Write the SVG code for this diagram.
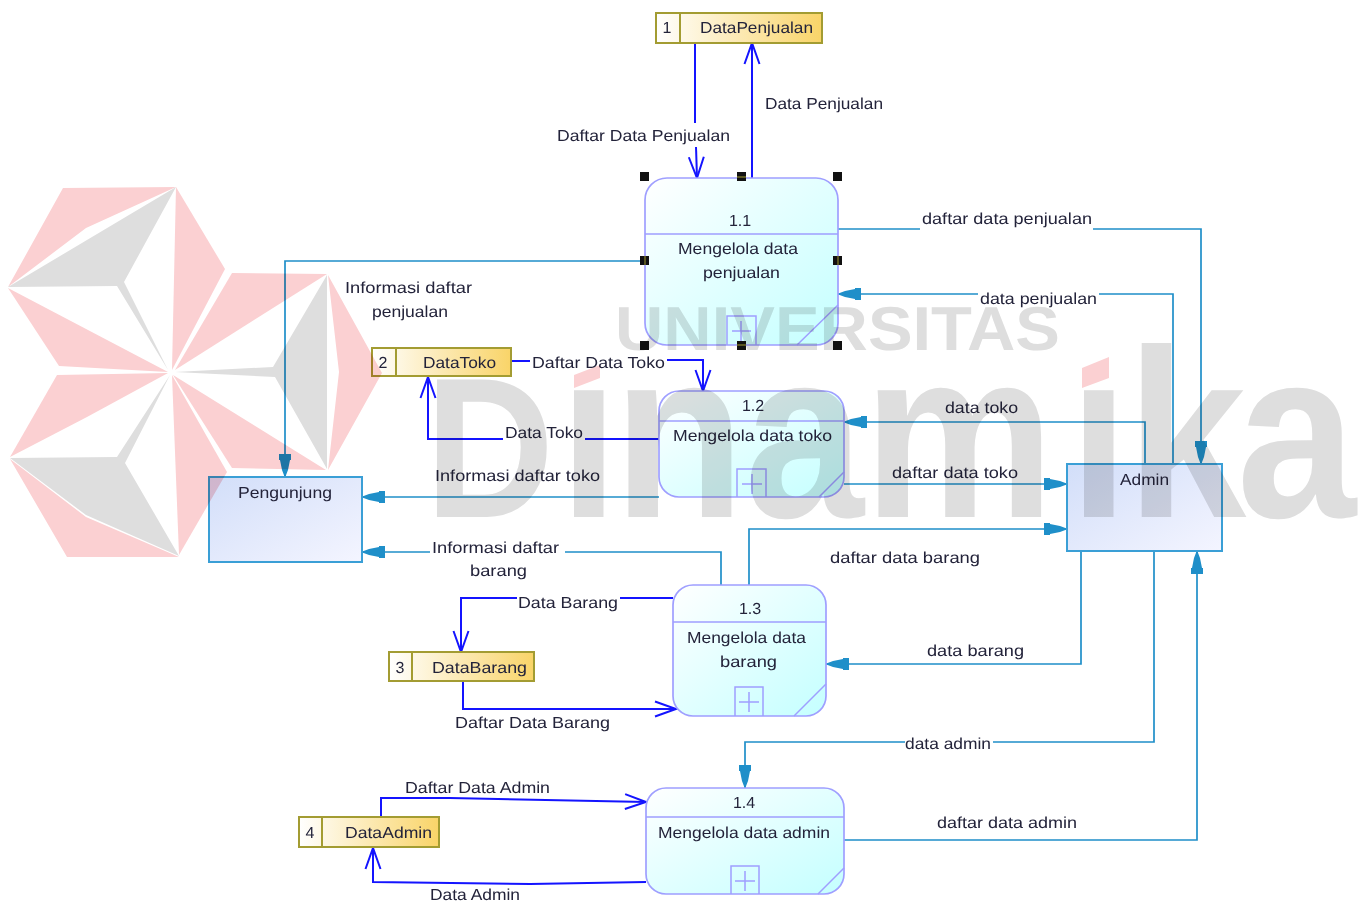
<svg xmlns="http://www.w3.org/2000/svg" width="1363" height="901" viewBox="0 0 1363 901">
<style>
text{font-family:"Liberation Sans",Arial,sans-serif;font-size:16px;fill:#23233a;text-rendering:geometricPrecision}
.m{text-anchor:middle}
.b{fill:none;stroke:#1414ff;stroke-width:2}
.c{fill:none;stroke:#1f8fc9;stroke-width:1.7}
.ao{marker-end:url(#open)}
.ac{marker-end:url(#solid)}
.proc{fill:url(#gp);stroke:#9f9fff;stroke-width:1.7}
.pl{fill:none;stroke:#9f9fff;stroke-width:1.5}
.store{fill:url(#gs);stroke:#a39c32;stroke-width:2}
.ext{fill:url(#ge);stroke:#3a9fd6;stroke-width:2}
.h{fill:#111}
.hs{fill:none;stroke:#a39c32;stroke-width:1}
.pk{fill:#fbd0d2}
.gr{fill:#dedede}
</style>
<defs>
<linearGradient id="gp" x1="0" y1="0" x2="1" y2="1"><stop offset="0" stop-color="#ffffff"/><stop offset="1" stop-color="#c4ffff"/></linearGradient>
<linearGradient id="gs" x1="0" y1="0" x2="1" y2="0"><stop offset="0" stop-color="#ffffff"/><stop offset="1" stop-color="#f9d468"/></linearGradient>
<linearGradient id="ge" x1="0" y1="0" x2="1" y2="1"><stop offset="0" stop-color="#d2def9"/><stop offset="1" stop-color="#f4f5ff"/></linearGradient>
<marker id="open" markerUnits="userSpaceOnUse" markerWidth="26" markerHeight="20" refX="23" refY="10" orient="auto" overflow="visible"><path d="M2,2.5 L23,10 L2,17.5" fill="none" stroke="#1414ff" stroke-width="2"/></marker>
<marker id="solid" markerUnits="userSpaceOnUse" markerWidth="26" markerHeight="16" refX="24" refY="8" orient="auto" overflow="visible"><path d="M1,2 L7,2 L7,3 L17,5 L23,7.3 L24,7.5 L24,8.5 L23,8.7 L17,11 L7,13 L7,14 L1,14 Z" fill="#1f8fc9"/></marker>
</defs>
<rect width="1363" height="901" fill="#ffffff"/>
<g id="connectors">
<path class="b" d="M695,43 L695,123"/>
<path class="b ao" d="M696,147 L697,178"/>
<path class="b ao" d="M752,178 L752,43"/>
<path class="b" d="M511,361 L530,361"/>
<path class="b ao" d="M667,360 L703,360 L703,391"/>
<path class="b" d="M659,439 L585,439"/>
<path class="b ao" d="M503,439 L428,439 L428,377"/>
<path class="b" d="M673,598 L620,598"/>
<path class="b ao" d="M517,598 L461,598 L461,652"/>
<path class="b ao" d="M463,681 L463,709 L676,709"/>
<path class="b ao" d="M381,817 L381,798 L450,798 L646,802"/>
<path class="b ao" d="M646,882 L530,884 L373,882 L373,848"/>
<path class="c ac" d="M645,261 L285,261 L285,477"/>
<path class="c" d="M838,229 L920,229"/>
<path class="c ac" d="M1093,229 L1201,229 L1201,464"/>
<path class="c" d="M1173,464 L1173,294 L1099,294"/>
<path class="c ac" d="M978,294 L838,294"/>
<path class="c ac" d="M1145,464 L1145,422 L844,422"/>
<path class="c ac" d="M844,484 L1067,484"/>
<path class="c ac" d="M659,497 L362,497"/>
<path class="c" d="M721,585 L721,552 L565,552"/>
<path class="c ac" d="M430,552 L362,552"/>
<path class="c ac" d="M749,585 L749,529 L1067,529"/>
<path class="c ac" d="M1081,551 L1081,664 L826,664"/>
<path class="c" d="M1154,551 L1154,742 L993,742"/>
<path class="c ac" d="M905,742 L745,742 L745,788"/>
<path class="c ac" d="M844,840 L1197,840 L1197,551"/>
</g>
<g id="store1"><rect class="store" x="656" y="13" width="166" height="30"/><path class="store" d="M680,13 V43"/><text x="667" y="33" class="m">1</text><text x="700" y="33" textLength="113" lengthAdjust="spacingAndGlyphs">DataPenjualan</text></g>
<g id="store2"><rect class="store" x="372" y="348" width="139" height="28"/><path class="store" d="M396,348 V376"/><text x="383" y="368" class="m">2</text><text x="423" y="368" textLength="73" lengthAdjust="spacingAndGlyphs">DataToko</text></g>
<g id="store3"><rect class="store" x="389" y="652" width="145" height="29"/><path class="store" d="M412,652 V681"/><text x="400" y="673" class="m">3</text><text x="432" y="673" textLength="95" lengthAdjust="spacingAndGlyphs">DataBarang</text></g>
<g id="store4"><rect class="store" x="299" y="817" width="140" height="30"/><path class="store" d="M322,817 V847"/><text x="310" y="838" class="m">4</text><text x="345" y="838" textLength="87" lengthAdjust="spacingAndGlyphs">DataAdmin</text></g>
<g id="proc11"><rect class="proc" x="645" y="178" width="193" height="167" rx="22"/><path class="pl" d="M645,234 H838 M727,345 V316 H756 V345 M741,321 V341 M732,331 H751 M797,345 L838,305"/><text x="740" y="226" class="m">1.1</text><text x="678" y="254" textLength="120" lengthAdjust="spacingAndGlyphs">Mengelola data</text><text x="703" y="278" textLength="77" lengthAdjust="spacingAndGlyphs">penjualan</text><path class="h" d="M640,172 h9 v9 h-9z M833,172 h9 v9 h-9z M640,341 h9 v9 h-9z M833,341 h9 v9 h-9z M737,172 h9 v9 h-9z M737,341 h9 v9 h-9z M640,256 h9 v9 h-9z M833,256 h9 v9 h-9z"/><path class="hs" d="M737,177 h9 M737,345 h9 M645,256 v9 M838,256 v9"/></g>
<g id="proc12"><rect class="proc" x="659" y="391" width="185" height="106" rx="20"/><path class="pl" d="M659,421 H844 M737,497 V469 H766 V497 M752,474 V494 M742,484 H762 M819,497 L844,472"/><text x="753" y="411" class="m">1.2</text><text x="673" y="441" textLength="159" lengthAdjust="spacingAndGlyphs">Mengelola data toko</text></g>
<g id="proc13"><rect class="proc" x="673" y="585" width="153" height="131" rx="20"/><path class="pl" d="M673,622 H826 M735,716 V687 H763 V716 M749,692 V712 M739,702 H759 M794,716 L826,684"/><text x="750" y="614" class="m">1.3</text><text x="687" y="643" textLength="119" lengthAdjust="spacingAndGlyphs">Mengelola data</text><text x="720" y="667" textLength="57" lengthAdjust="spacingAndGlyphs">barang</text></g>
<g id="proc14"><rect class="proc" x="646" y="788" width="198" height="106" rx="20"/><path class="pl" d="M646,817 H844 M731,894 V866 H759 V894 M745,871 V891 M735,881 H755 M818,894 L844,868"/><text x="744" y="808" class="m">1.4</text><text x="658" y="838" textLength="172" lengthAdjust="spacingAndGlyphs">Mengelola data admin</text></g>
<g id="pengunjung"><rect class="ext" x="209" y="477" width="153" height="85"/><text x="238" y="498" textLength="94" lengthAdjust="spacingAndGlyphs">Pengunjung</text></g>
<g id="admin"><rect class="ext" x="1067" y="464" width="155" height="87"/><text x="1120" y="485" textLength="49" lengthAdjust="spacingAndGlyphs">Admin</text></g>
<g id="labels">
<text x="557" y="141" textLength="173" lengthAdjust="spacingAndGlyphs">Daftar Data Penjualan</text>
<text x="765" y="109" textLength="118" lengthAdjust="spacingAndGlyphs">Data Penjualan</text>
<text x="922" y="224" textLength="170" lengthAdjust="spacingAndGlyphs">daftar data penjualan</text>
<text x="980" y="304" textLength="117" lengthAdjust="spacingAndGlyphs">data penjualan</text>
<text x="345" y="293" textLength="127" lengthAdjust="spacingAndGlyphs">Informasi daftar</text>
<text x="372" y="317" textLength="76" lengthAdjust="spacingAndGlyphs">penjualan</text>
<text x="532" y="368" textLength="133" lengthAdjust="spacingAndGlyphs">Daftar Data Toko</text>
<text x="505" y="438" textLength="78" lengthAdjust="spacingAndGlyphs">Data Toko</text>
<text x="435" y="481" textLength="165" lengthAdjust="spacingAndGlyphs">Informasi daftar toko</text>
<text x="945" y="413" textLength="73" lengthAdjust="spacingAndGlyphs">data toko</text>
<text x="892" y="478" textLength="126" lengthAdjust="spacingAndGlyphs">daftar data toko</text>
<text x="432" y="553" textLength="127" lengthAdjust="spacingAndGlyphs">Informasi daftar</text>
<text x="470" y="576" textLength="57" lengthAdjust="spacingAndGlyphs">barang</text>
<text x="830" y="563" textLength="150" lengthAdjust="spacingAndGlyphs">daftar data barang</text>
<text x="518" y="608" textLength="100" lengthAdjust="spacingAndGlyphs">Data Barang</text>
<text x="927" y="656" textLength="97" lengthAdjust="spacingAndGlyphs">data barang</text>
<text x="455" y="728" textLength="155" lengthAdjust="spacingAndGlyphs">Daftar Data Barang</text>
<text x="905" y="749" textLength="86" lengthAdjust="spacingAndGlyphs">data admin</text>
<text x="937" y="828" textLength="140" lengthAdjust="spacingAndGlyphs">daftar data admin</text>
<text x="405" y="793" textLength="145" lengthAdjust="spacingAndGlyphs">Daftar Data Admin</text>
<text x="430" y="900" textLength="90" lengthAdjust="spacingAndGlyphs">Data Admin</text>
</g>
<g id="watermark" style="mix-blend-mode:multiply">
<polygon class="pk" points="63,188 176,187 86,228 8,287"/>
<polygon class="gr" points="176,187 8,287 117,286 168,370 124,282"/>
<polygon class="pk" points="176,187 225,269 172,370"/>
<polygon class="pk" points="8,288 59,366 168,372"/>
<polygon class="pk" points="57,375 168,373 87,417 10,457"/>
<polygon class="gr" points="10,458 117,457 170,375 125,463 179,556 86,515"/>
<polygon class="pk" points="10,459 86,517 179,557 67,557"/>
<polygon class="pk" points="172,375 227,472 179,555"/>
<polygon class="pk" points="232,273 327,274 175,370"/>
<polygon class="gr" points="327,275 327,469 275,377 175,372 273,367"/>
<polygon class="pk" points="328,275 382,373 328,470 339,372"/>
<polygon class="pk" points="173,375 326,470 232,468"/>
<text x="615" y="350" textLength="445" lengthAdjust="spacingAndGlyphs" style="font-size:62px;font-weight:bold;fill:#dedede">UNIVERSITAS</text>
<text transform="translate(425 517) scale(.895 1)" x="0" y="0" style="font-size:240px;font-weight:bold;fill:#dedede"><tspan x="0" style="font-size:200px;fill:#dedede">D</tspan><tspan x="149.7 210.6 357 490 719.6 784 907" style="fill:#dedede">inamika</tspan></text>
<rect x="572" y="338" width="36" height="50" fill="#ffffff"/>
<rect x="1082" y="338" width="36" height="50" fill="#ffffff"/>
<polygon class="pk" points="574,375 600,365 600,378 574,388"/>
<polygon class="pk" points="1082,368 1109,357 1109,378 1082,388"/>
</g>
</svg>
